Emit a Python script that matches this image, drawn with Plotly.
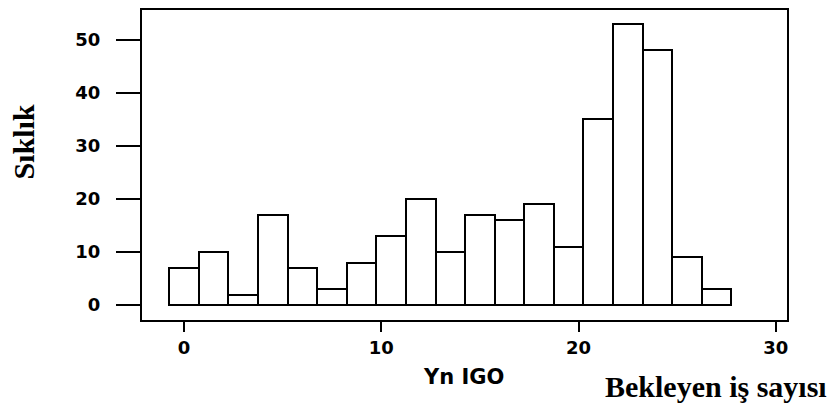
import plotly.graph_objects as go

bin_centers = [0, 1.5, 3, 4.5, 6, 7.5, 9, 10.5, 12, 13.5, 15, 16.5, 18, 19.5, 21, 22.5, 24, 25.5, 27]
counts = [7, 10, 2, 17, 7, 3, 8, 13, 20, 10, 17, 16, 19, 11, 35, 53, 48, 9, 3]
bin_width = 1.5
x_ticks = [0, 10, 20, 30]
y_ticks = [0, 10, 20, 30, 40, 50]

fig = go.Figure()
fig.add_trace(go.Bar(
    x=bin_centers, y=counts, width=bin_width,
    marker=dict(color="white", line=dict(color="black", width=2)),
    showlegend=False,
))

tickfont = dict(family="DejaVu Sans", size=18, color="black", weight="bold")
fig.update_layout(
    width=835, height=407,
    margin=dict(l=142, r=48, t=8, b=87),
    paper_bgcolor="white", plot_bgcolor="white",
    bargap=0,
    xaxis=dict(range=[-2.13, 30.57], tickvals=x_ticks, ticks="outside", ticklen=10,
               tickwidth=2, tickcolor="black", showgrid=False, zeroline=False,
               showline=True, linecolor="black", linewidth=2, mirror=True,
               tickfont=tickfont),
    yaxis=dict(range=[-2.8, 55.6], tickvals=y_ticks, ticks="outside", ticklen=24,
               tickwidth=2, tickcolor="black", showgrid=False, zeroline=False,
               showline=True, linecolor="black", linewidth=2, mirror=True,
               tickfont=tickfont, ticklabelstandoff=12),
    annotations=[
        dict(text="Sıklık", xref="paper", yref="paper", x=-0.1837, y=0.574,
             xanchor="center", yanchor="middle",
             textangle=-90, showarrow=False,
             font=dict(family="Liberation Serif", size=30, color="black", weight="bold")),
        dict(text="Yn IGO", xref="paper", yref="paper", x=0.4992, y=-0.1827,
             xanchor="center", yanchor="middle", showarrow=False,
             font=dict(family="DejaVu Sans", size=21, color="black", weight="bold")),
        dict(text="Bekleyen iş sayısı", xref="paper", yref="paper", x=0.890, y=-0.215,
             xanchor="center", yanchor="middle", showarrow=False,
             font=dict(family="Liberation Serif", size=30, color="black", weight="bold")),
    ],
)
fig.write_html("out.html")
